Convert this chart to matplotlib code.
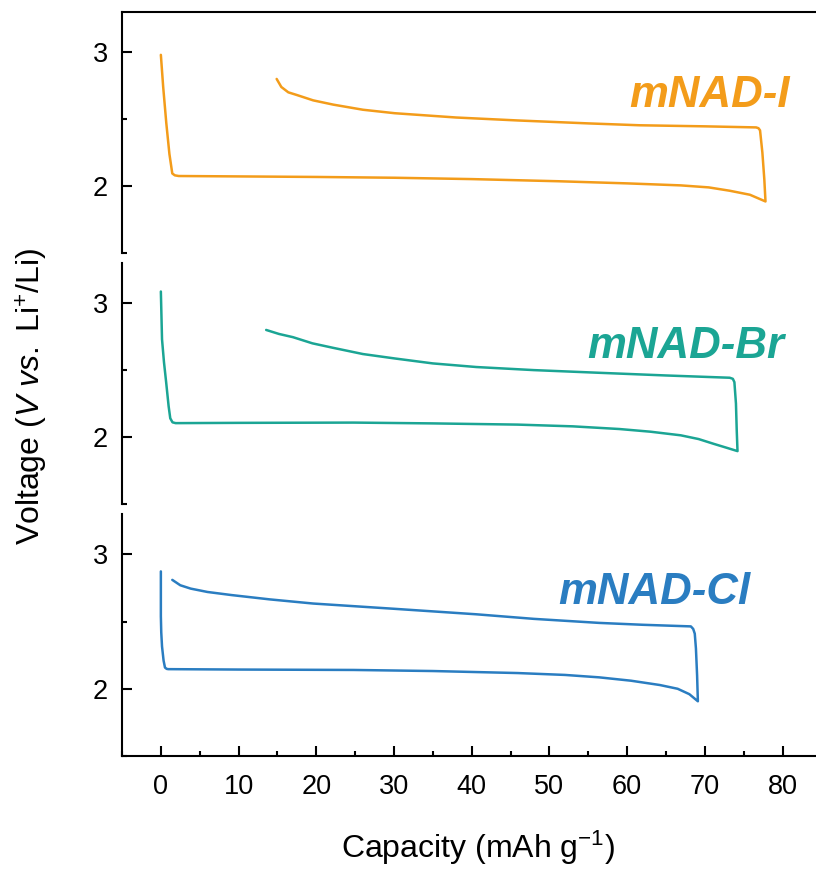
import matplotlib
matplotlib.use("Agg")
import matplotlib.pyplot as plt
from matplotlib.ticker import MultipleLocator

plt.rcParams['font.family'] = ['Liberation Sans', 'DejaVu Sans']
plt.rcParams['mathtext.fontset'] = 'custom'
plt.rcParams['mathtext.rm'] = 'Liberation Sans'
plt.rcParams['mathtext.it'] = 'Liberation Sans:italic'
plt.rcParams['mathtext.bf'] = 'Liberation Sans:bold'

# mNAD-I (discharge 0 -> end, then charge back)
cap_I = [0.0, 0.3, 0.7, 1.1, 1.47, 1.8, 2.3, 10, 20, 30.1, 40, 51.1, 60, 66.9, 70.5, 73.2, 75.8, 77.8,
         77.65, 77.4, 77.1, 76.9, 76.6, 70, 61.6, 55, 45.9, 38.0, 30.1, 26, 22.2, 19.6, 17.5, 16.4, 15.5, 14.9]
v_I = [2.98, 2.74, 2.47, 2.24, 2.094, 2.08, 2.075, 2.072, 2.068, 2.062, 2.052, 2.036, 2.02, 2.005, 1.99, 1.965, 1.935, 1.885,
       2.05, 2.25, 2.416, 2.432, 2.438, 2.446, 2.454, 2.468, 2.49, 2.512, 2.544, 2.57, 2.608, 2.64, 2.68, 2.70, 2.74, 2.80]

# mNAD-Br
cap_Br = [0.0, 0.15, 0.4, 0.68, 1.0, 1.21, 1.5, 1.9, 10, 24.8, 35, 45.9, 53, 59.0, 63, 66.9, 69.2, 71.1, 72.8, 74.2,
          74.1, 74.0, 73.8, 73.6, 73.2, 65, 56.4, 48, 40.6, 35, 30.1, 26, 22.2, 19.5, 17.0, 15.2, 13.55]
v_Br = [3.087, 2.73, 2.56, 2.41, 2.23, 2.14, 2.11, 2.104, 2.106, 2.108, 2.102, 2.093, 2.08, 2.06, 2.04, 2.013, 1.985, 1.95, 1.92, 1.895,
        2.05, 2.25, 2.41, 2.435, 2.443, 2.46, 2.48, 2.50, 2.523, 2.55, 2.587, 2.62, 2.666, 2.70, 2.746, 2.77, 2.80]

# mNAD-Cl
cap_Cl = [0.0, 0.0, 0.05, 0.15, 0.35, 0.53, 0.75, 0.95, 10, 24.8, 35, 45.9, 52, 56.4, 60.5, 64.2, 66.5, 68.0, 69.1,
          69.0, 68.85, 68.7, 68.5, 68.2, 62, 56.4, 48, 40.6, 30, 19.6, 14, 9.1, 6, 3.84, 2.5, 1.47]
v_Cl = [2.873, 2.54, 2.42, 2.315, 2.21, 2.158, 2.148, 2.146, 2.143, 2.14, 2.132, 2.117, 2.103, 2.085, 2.06, 2.028, 2.0, 1.96, 1.907,
        2.10, 2.30, 2.41, 2.445, 2.464, 2.476, 2.49, 2.52, 2.554, 2.595, 2.634, 2.665, 2.697, 2.72, 2.745, 2.77, 2.81]

series = [
    ("mNAD-I", cap_I, v_I, "#F39C1A", 80.9, 2.59),
    ("mNAD-Br", cap_Br, v_Br, "#1BA594", 80.2, 2.59),
    ("mNAD-Cl", cap_Cl, v_Cl, "#2A7DC1", 75.9, 2.63),
]

W, H = 816, 871
fig = plt.figure(figsize=(W / 100, H / 100), dpi=100)

panels = [(12, 253), (263, 504), (514, 756)]
left = 122 / W
for i, ((top, bot), (name, x, y, col, tx, ty)) in enumerate(zip(panels, series)):
    ax = fig.add_axes([left, 1 - bot / H, 1 - left, (bot - top) / H])
    ax.plot(x, y, color=col, lw=1.8, solid_joinstyle='round', solid_capstyle='round')
    ax.set_xlim(-5, 84.3)
    ax.set_ylim(1.5, 3.3)
    ax.yaxis.set_major_locator(MultipleLocator(1))
    ax.yaxis.set_minor_locator(MultipleLocator(0.5))
    ax.xaxis.set_major_locator(MultipleLocator(10))
    ax.xaxis.set_minor_locator(MultipleLocator(5))
    ax.tick_params(axis='both', which='major', direction='in', length=7, width=1.5,
                   labelsize=19.5, pad=10)
    ax.tick_params(axis='both', which='minor', direction='in', length=3.5, width=1.5)
    ax.spines['right'].set_visible(False)
    ax.spines['left'].set_linewidth(1.5)
    if i == 0:
        ax.spines['top'].set_linewidth(1.5)
    else:
        ax.spines['top'].set_visible(False)
    if i < 2:
        ax.spines['bottom'].set_visible(False)
        ax.tick_params(axis='x', which='both', bottom=False, labelbottom=False)
    else:
        ax.spines['bottom'].set_linewidth(1.5)
        ax.tick_params(axis='x', which='major', pad=13)
    ax.text(tx, ty, name, color=col, fontsize=31.5, fontweight='bold', fontstyle='italic',
            ha='right', va='baseline')
    ax.patch.set_alpha(0)

fig.text(478 / W, 1 - 848 / H, "Capacity (mAh g$^{-1}$)", fontsize=23, ha='center', va='center')
fig.text(32 / W, 1 - 396 / H, r"Voltage ($\it{V}$ $\it{vs.}$ Li$^{+}$/Li)", fontsize=23,
         rotation=90, ha='center', va='center')

fig.savefig("out.png", dpi=100)
